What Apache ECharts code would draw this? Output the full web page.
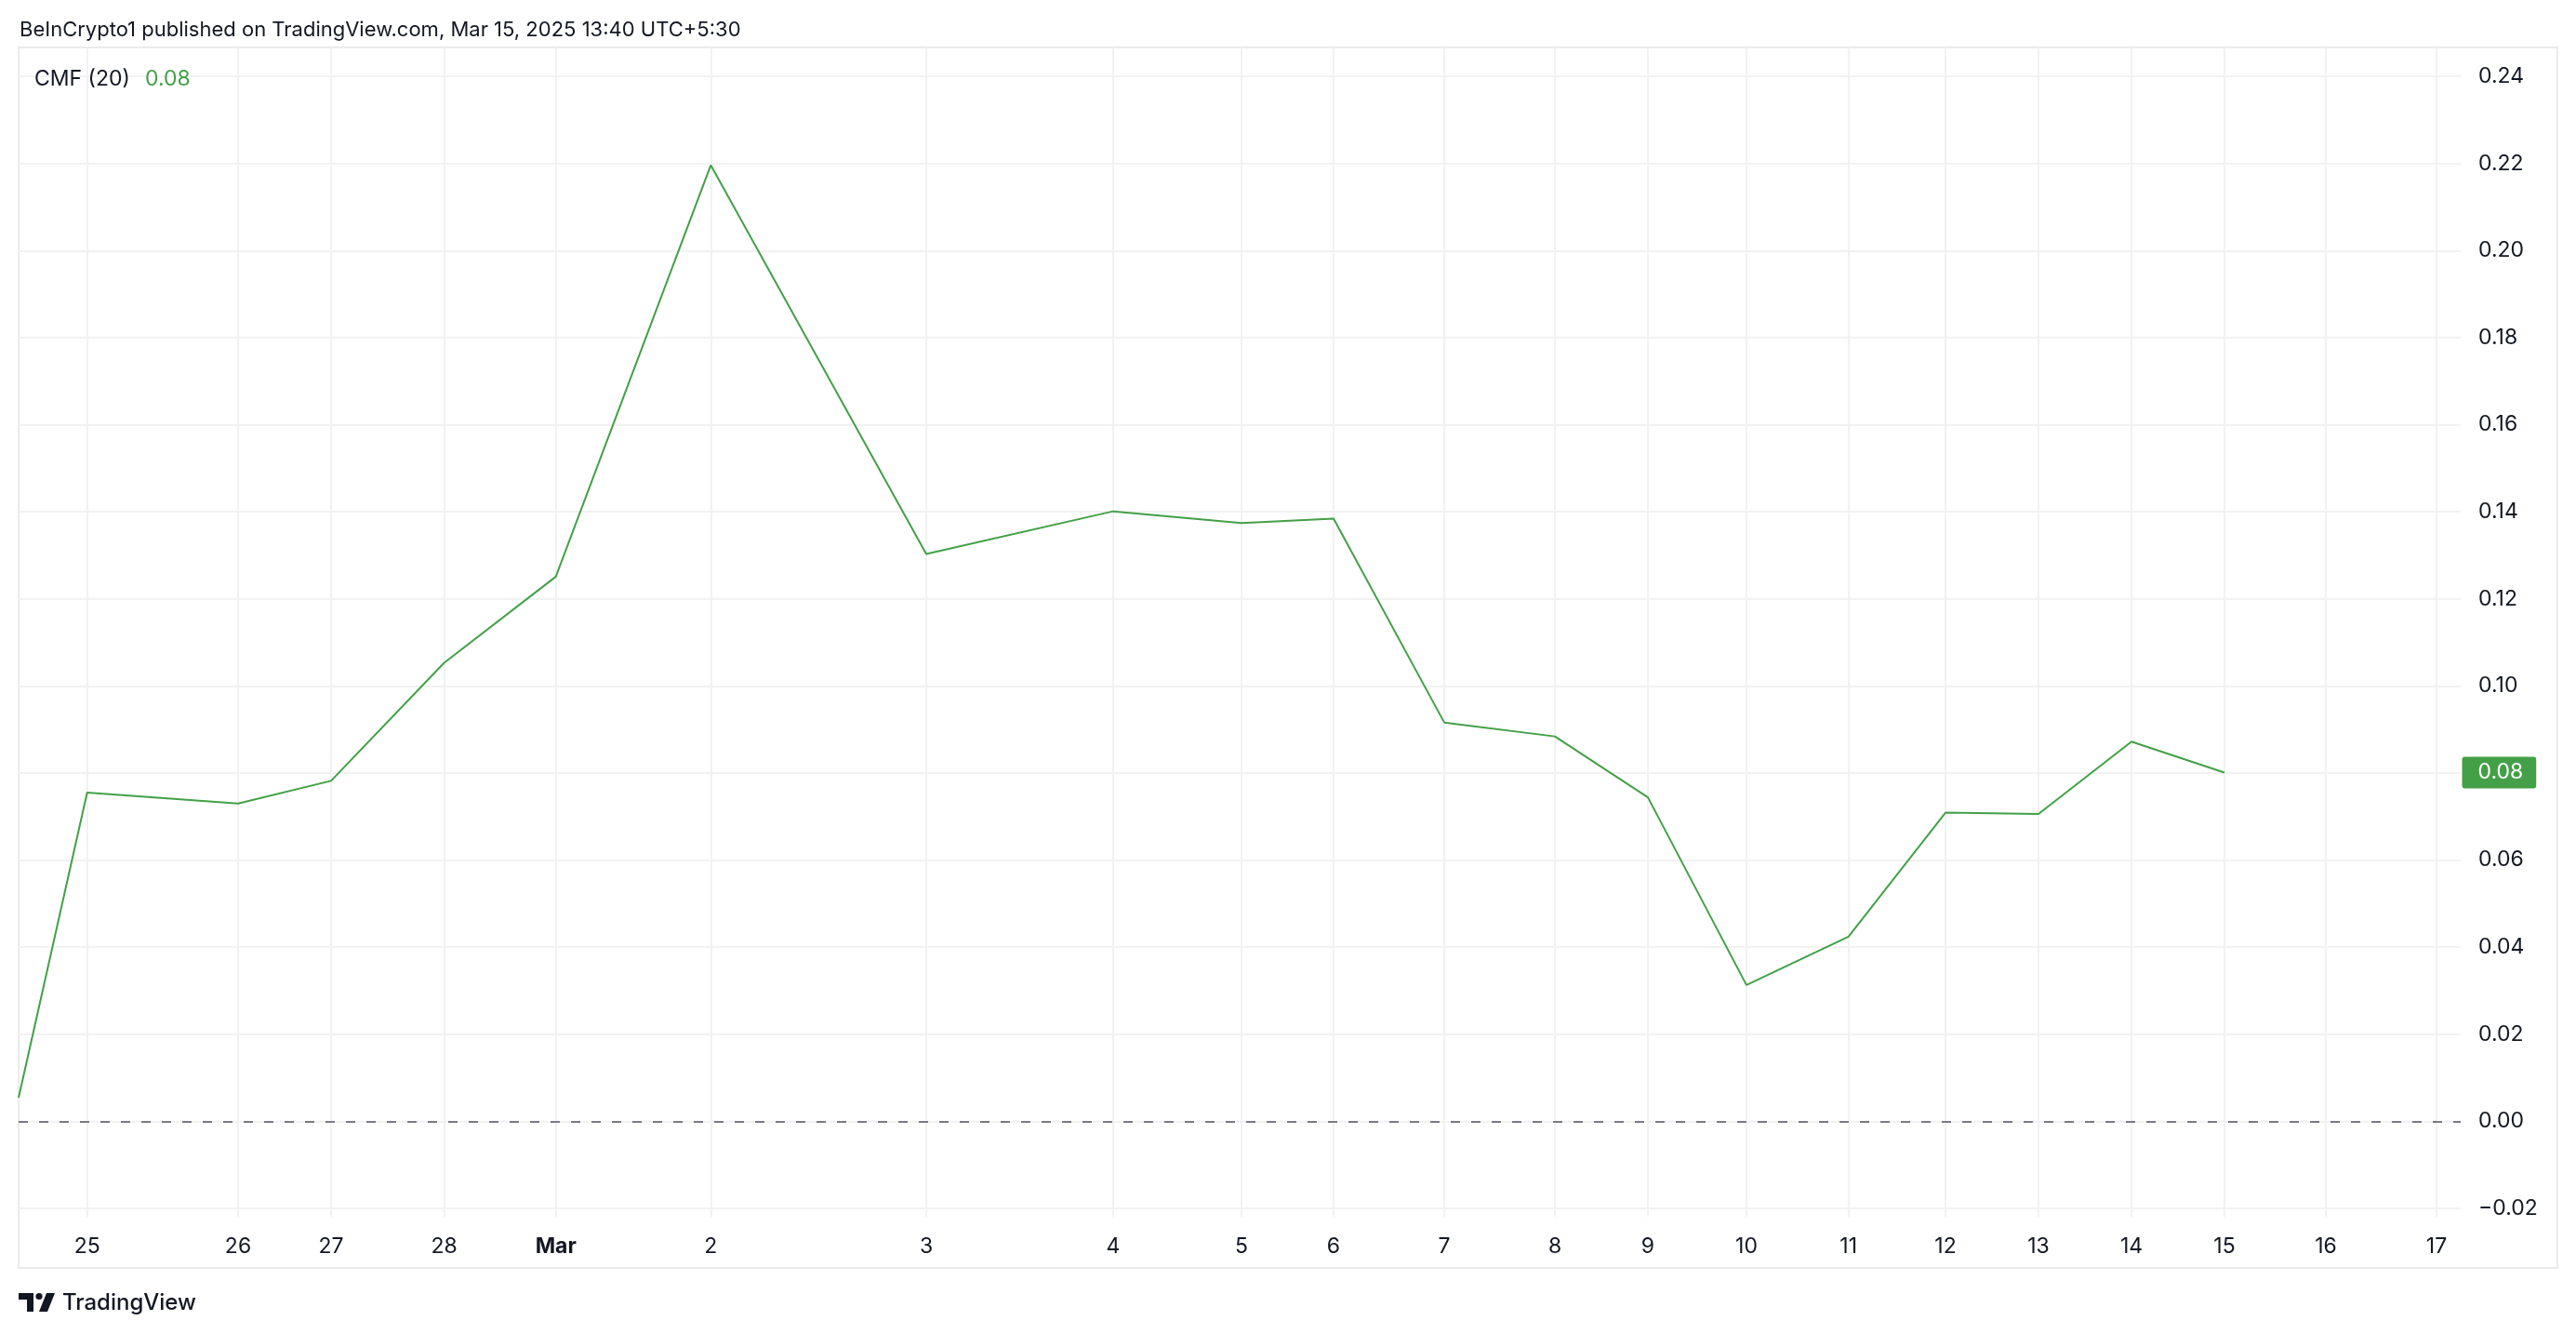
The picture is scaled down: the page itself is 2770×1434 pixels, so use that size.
<!DOCTYPE html>
<html>
<head>
<meta charset="utf-8">
<script src="https://cdn.jsdelivr.net/npm/echarts@6/dist/echarts.min.js"></script>
<style>
html,body{margin:0;padding:0;background:#ffffff;}
#chart{width:2770px;height:1434px;}
</style>
</head>
<body>
<div id="chart"></div>
<script>
// ---- data ----
const tickLabels = ['25','26','27','28','Mar','2','3','4','5','6','7','8','9','10','11','12','13','14','15','16','17'];
// positions of each day on the (uneven) TradingView time scale
const tickPos = [73.7, 236, 336, 457.6, 577.7, 744.3, 976, 1177, 1315, 1414, 1533, 1652, 1752, 1858, 1967.7, 2072, 2172, 2272, 2372, 2481, 2600];
// first point is the clipped segment entering at the left edge
const cmfPos = [0, 73.7, 236, 336, 457.6, 577.7, 744.3, 976, 1177, 1315, 1414, 1533, 1652, 1752, 1858, 1967.7, 2072, 2172, 2272, 2372];
const cmfValues = [0.0054, 0.0755, 0.0730, 0.0782, 0.1053, 0.1251, 0.2196, 0.1303, 0.1401, 0.1374, 0.1384, 0.0916, 0.0884, 0.0744, 0.0313, 0.0424, 0.0709, 0.0706, 0.0872, 0.0801];
const yTicks = [-0.02, 0, 0.02, 0.04, 0.06, 0.08, 0.10, 0.12, 0.14, 0.16, 0.18, 0.20, 0.22, 0.24];
const titleText = 'BeInCrypto1 published on TradingView.com, Mar 15, 2025 13:40 UTC+5:30';
const legendName = 'CMF (20)';

const GREEN = '#43a047';
const TEXT = '#131722';
const GRID = '#f2f2f2';
const FONT = 'Inter, "Noto Sans", sans-serif';

const X_MAX = 2626;
const lastValue = cmfValues[cmfValues.length - 1];
const fmtY = v => (v < 0 ? '\u2212' + Math.abs(v).toFixed(2) : v.toFixed(2));

const chart = echarts.init(document.getElementById('chart'), null, {renderer: 'canvas'});

const option = {
  backgroundColor: '#ffffff',
  animation: false,
  grid: {left: 20, right: 124, top: 51, bottom: 126, containLabel: false},
  xAxis: {
    type: 'value',
    min: 0,
    max: X_MAX,
    axisLine: {show: false},
    axisTick: {show: false},
    splitLine: {show: false},
    axisLabel: {
      customValues: tickPos,
      margin: 21,
      fontSize: 23,
      fontFamily: FONT,
      color: TEXT,
      formatter: function (v) {
        let best = 0, d = Infinity;
        tickPos.forEach((p, i) => { const dd = Math.abs(p - v); if (dd < d) { d = dd; best = i; } });
        const t = tickLabels[best];
        return t === 'Mar' ? '{b|Mar}' : t;
      },
      rich: {b: {fontWeight: 'bold', fontSize: 23, fontFamily: FONT, color: TEXT}}
    }
  },
  yAxis: {
    type: 'value',
    position: 'right',
    min: -0.02193,
    max: 0.24664,
    axisLine: {show: false},
    axisTick: {show: false},
    splitLine: {show: false},
    axisLabel: {
      customValues: yTicks,
      margin: 19,
      fontSize: 23,
      fontFamily: FONT,
      color: TEXT,
      formatter: v => fmtY(v)
    }
  },
  series: [
    {
      // grid lines
      type: 'line',
      data: [],
      silent: true,
      z: 1,
      markLine: {
        silent: true,
        symbol: ['none', 'none'],
        animation: false,
        label: {show: false},
        lineStyle: {color: GRID, width: 2, type: 'solid'},
        data: tickPos.map(p => ({xAxis: p})).concat(yTicks.map(v => ({yAxis: v})))
      }
    },
    {
      // zero line
      type: 'line',
      data: [],
      silent: true,
      z: 2,
      markLine: {
        silent: true,
        symbol: ['none', 'none'],
        animation: false,
        label: {show: false},
        lineStyle: {color: '#787b86', width: 2, type: [10, 12]},
        data: [{yAxis: 0}]
      }
    },
    {
      name: legendName,
      type: 'line',
      z: 5,
      showSymbol: false,
      symbol: 'none',
      lineStyle: {color: GREEN, width: 2},
      data: cmfPos.map((p, i) => [p, cmfValues[i]])
    },
    {
      // last value label on the price axis
      type: 'scatter',
      silent: true,
      clip: false,
      z: 6,
      symbol: 'rect',
      symbolSize: 1,
      itemStyle: {color: 'rgba(0,0,0,0)', opacity: 1},
      label: {
        show: true,
        position: 'right',
        distance: 1,
        formatter: () => lastValue.toFixed(2),
        backgroundColor: GREEN,
        color: '#ffffff',
        fontSize: 23,
        fontFamily: FONT,
        padding: [6, 14, 5, 17],
        borderRadius: 3,
        opacity: 1
      },
      data: [[X_MAX, lastValue]]
    }
  ],
  graphic: [
    {
      type: 'rect',
      silent: true,
      z: 0,
      shape: {x: 20, y: 51, width: 2730, height: 1312},
      style: {fill: 'none', stroke: '#ebebeb', lineWidth: 2}
    },
    {
      type: 'text',
      z: 100,
      left: 21, top: 21,
      style: {text: titleText, font: '22px ' + FONT, fill: TEXT}
    },
    {
      type: 'text',
      z: 100,
      left: 37, top: 74,
      style: {text: legendName, font: '23px ' + FONT, fill: TEXT}
    },
    {
      type: 'text',
      z: 100,
      left: 156, top: 74,
      style: {text: lastValue.toFixed(2), font: '23px ' + FONT, fill: GREEN}
    },
    {
      type: 'polygon',
      silent: true,
      z: 100,
      shape: {points: [[20, 1390], [36, 1390], [36, 1410], [29, 1410], [29, 1397], [20, 1397]]},
      style: {fill: TEXT}
    },
    {
      type: 'circle',
      silent: true,
      z: 100,
      shape: {cx: 42, cy: 1393.5, r: 3.6},
      style: {fill: TEXT}
    },
    {
      type: 'polygon',
      silent: true,
      z: 100,
      shape: {points: [[50, 1390], [59, 1390], [51, 1410], [42, 1410]]},
      style: {fill: TEXT}
    },
    {
      type: 'text',
      z: 100,
      left: 67, top: 1389,
      style: {text: 'TradingView', font: '500 24px ' + FONT, fill: TEXT}
    }
  ]
};

chart.setOption(option);
</script>
</body>
</html>
